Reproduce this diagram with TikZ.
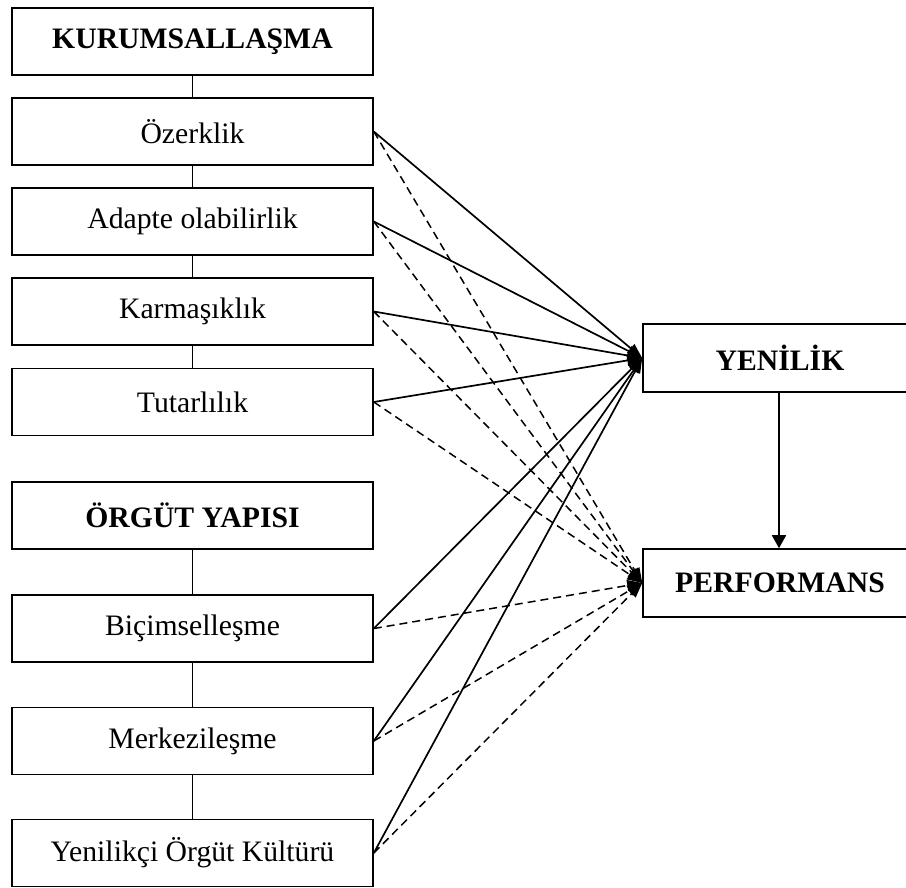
\documentclass[tikz,border=0pt]{standalone}
\usepackage{fontspec}
\setmainfont{Liberation Serif}
\usetikzlibrary{arrows.meta}

\tikzset{
  box/.style={draw, line width=1.6pt, minimum width=361pt, minimum height=67pt,
    inner sep=0pt, font=\fontsize{29.7}{34}\selectfont},
  headbox/.style={box, font=\fontsize{29.7}{34}\selectfont\bfseries},
  outbox/.style={draw, line width=1.6pt, minimum width=274pt, minimum height=68pt,
    inner sep=0pt, font=\fontsize{29.7}{34}\selectfont\bfseries},
  chain/.style={line width=0.9pt},
  effect/.style={line width=1.7pt, -{Triangle[length=15pt,width=11pt]}},
  weak/.style={line width=1.5pt, dash pattern=on 8pt off 5pt,
    -{Triangle[length=15pt,width=11pt]}},
  flow/.style={line width=1.8pt, -{Triangle[length=13pt,width=14pt]}}
}

\begin{document}
\begin{tikzpicture}[x=1pt, y=-1pt]
\useasboundingbox (0,0) rectangle (906,888);

% left column: institutionalisation
\node[headbox] (kur) at (192.5,41.5) {KURUMSALLAŞMA};
\node[box] (oze) at (192.5,131.5) {Özerklik};
\node[box] (ada) at (192.5,221.5) {Adapte olabilirlik};
\node[box] (kar) at (192.5,311.5) {Karmaşıklık};
\node[box] (tut) at (192.5,402) {Tutarlılık};

% left column: organisational structure
\node[headbox] (org) at (192.5,515.5) {ÖRGÜT YAPISI};
\node[box] (bic) at (192.5,628.5) {Biçimselleşme};
\node[box] (mer) at (192.5,741) {Merkezileşme};
\node[box] (ykk) at (192.5,853) {Yenilikçi Örgüt Kültürü};

% outcome boxes
\node[outbox] (yen) at (780,358) {YENİLİK};
\node[outbox] (per) at (780,583) {PERFORMANS};

% links inside each column
\draw[chain] (kur) -- (oze);
\draw[chain] (oze) -- (ada);
\draw[chain] (ada) -- (kar);
\draw[chain] (kar) -- (tut);
\draw[chain] (org) -- (bic);
\draw[chain] (bic) -- (mer);
\draw[chain] (mer) -- (ykk);

% effects on innovation (solid) and on performance (dashed)
\foreach \s in {oze,ada,kar,tut,bic,mer,ykk}{
  \draw[effect] (\s.east) -- (yen.west);
  \draw[weak] (\s.east) -- (per.west);
}

% innovation drives performance
\draw[flow] (yen.south -| 779,0) -- (per.north -| 779,0);
\end{tikzpicture}
\end{document}
